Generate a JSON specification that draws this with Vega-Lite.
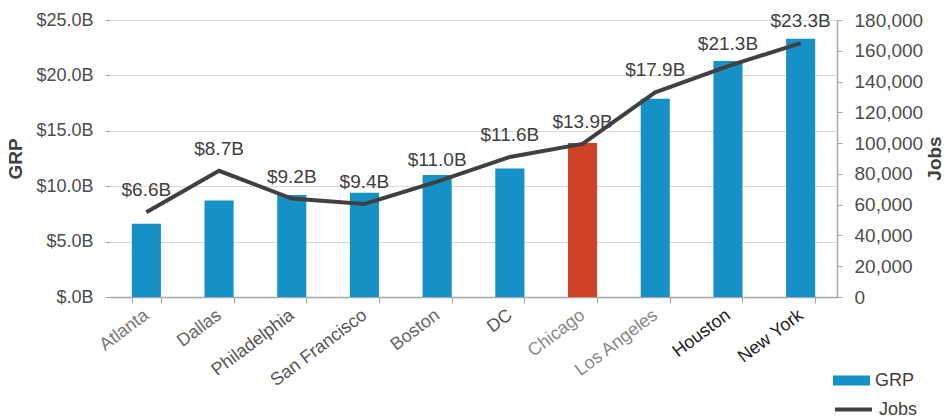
{
  "$schema": "https://vega.github.io/schema/vega-lite/v6.json",
  "width": 727,
  "height": 277,
  "autosize": {"type": "none"},
  "padding": {"left": 110, "top": 20, "right": 108, "bottom": 120},
  "background": "white",
  "config": {
    "font": "Liberation Sans",
    "view": {"stroke": null},
    "axis": {"labelFont": "Liberation Sans", "titleFont": "Liberation Sans"},
    "legend": {"labelFont": "Liberation Sans"}
  },
  "data": {
    "values": [
      {"City": "Atlanta", "GRP": 6.6, "Jobs": 55000},
      {"City": "Dallas", "GRP": 8.7, "Jobs": 82000},
      {"City": "Philadelphia", "GRP": 9.2, "Jobs": 64000},
      {"City": "San Francisco", "GRP": 9.4, "Jobs": 60500},
      {"City": "Boston", "GRP": 11.0, "Jobs": 75000},
      {"City": "DC", "GRP": 11.6, "Jobs": 91000},
      {"City": "Chicago", "GRP": 13.9, "Jobs": 99500},
      {"City": "Los Angeles", "GRP": 17.9, "Jobs": 133000},
      {"City": "Houston", "GRP": 21.3, "Jobs": 150000},
      {"City": "New York", "GRP": 23.3, "Jobs": 165000}
    ]
  },
  "transform": [
    {"calculate": "'$' + format(datum.GRP, '.1f') + 'B'", "as": "Label"}
  ],
  "encoding": {
    "x": {
      "field": "City",
      "type": "nominal",
      "sort": null,
      "scale": {"paddingInner": 0.6, "paddingOuter": 0.3},
      "axis": {
        "title": null,
        "labelAngle": -37,
        "labelAlign": "right",
        "labelBaseline": "middle",
        "labelFontSize": 18,
        "labelPadding": 10,
        "labelColor": {"expr": "datum.value == 'Houston' || datum.value == 'New York' ? '#222222' : (datum.value == 'Chicago' || datum.value == 'Los Angeles' ? '#888888' : (datum.value == 'Atlanta' ? '#777777' : (datum.value == 'Dallas' || datum.value == 'Boston' ? '#666666' : '#555555')))"},
        "domainColor": "#a6a6a6",
        "domainWidth": 1.5,
        "tickColor": "#a6a6a6",
        "tickSize": 6,
        "tickBand": "extent",
        "labelOverlap": false
      }
    }
  },
  "layer": [
    {
      "mark": {"type": "bar"},
      "encoding": {
        "y": {
          "field": "GRP",
          "type": "quantitative",
          "scale": {"domain": [0, 25]},
          "axis": {
            "title": "GRP",
            "titleFontSize": 19,
            "titleFontWeight": "bold",
            "titleColor": "#404040",
            "titlePadding": 10,
            "values": [0, 5, 10, 15, 20, 25],
            "labelExpr": "datum.value == 0 ? '$.0B' : '$' + format(datum.value, '.1f') + 'B'",
            "labelFontSize": 18,
            "labelColor": "#4d4d4d",
            "labelPadding": 12,
            "domain": false,
            "tickColor": "#a6a6a6",
            "tickSize": 5,
            "grid": true,
            "gridColor": "#ddd8d8",
            "gridWidth": 1.2
          }
        },
        "color": {
          "condition": {"test": "datum.City == 'Chicago'", "value": "#D04126"},
          "datum": "GRP",
          "scale": {"domain": ["GRP"], "range": ["#1591C8"]},
          "legend": {
            "title": null,
            "orient": "none",
            "legendX": 723,
            "legendY": 342,
            "symbolType": "M-1,-0.27H1V0.27H-1Z",
            "symbolSize": 1369,
            "symbolStrokeWidth": 0,
            "labelFontSize": 18,
            "labelColor": "#404040",
            "labelOffset": 5
          }
        }
      }
    },
    {
      "mark": {"type": "line", "strokeWidth": 4},
      "encoding": {
        "y": {
          "field": "Jobs",
          "type": "quantitative",
          "scale": {"domain": [0, 180000]},
          "axis": {
            "orient": "right",
            "title": "Jobs",
            "titleAngle": 270,
            "titleBaseline": "middle",
            "titleAlign": "center",
            "titleX": 97,
            "titleY": 138,
            "titleFontSize": 19,
            "titleFontWeight": "bold",
            "titleColor": "#404040",
            "values": [0, 20000, 40000, 60000, 80000, 100000, 120000, 140000, 160000, 180000],
            "format": ",d",
            "labelFontSize": 19,
            "labelColor": "#4d4d4d",
            "labelPadding": 12,
            "domain": true,
            "domainColor": "#a6a6a6",
            "domainWidth": 1.5,
            "tickColor": "#a6a6a6",
            "tickSize": 5,
            "grid": false
          }
        },
        "stroke": {
          "datum": "Jobs",
          "scale": {"domain": ["Jobs"], "range": ["#404040"]},
          "legend": {
            "title": null,
            "orient": "none",
            "legendX": 723,
            "legendY": 369,
            "symbolType": "stroke",
            "symbolSize": 1369,
            "symbolStrokeWidth": 4,
            "symbolStrokeColor": "#404040",
            "labelFontSize": 18,
            "labelColor": "#404040",
            "labelOffset": 5
          }
        }
      }
    },
    {
      "mark": {"type": "text", "fontSize": 19, "color": "#404040", "baseline": "middle", "dy": -22},
      "encoding": {
        "y": {
          "field": "Jobs",
          "type": "quantitative",
          "scale": {"domain": [0, 180000]},
          "axis": null
        },
        "text": {"field": "Label"}
      }
    }
  ],
  "resolve": {"scale": {"y": "independent", "color": "independent", "stroke": "independent"}}
}
